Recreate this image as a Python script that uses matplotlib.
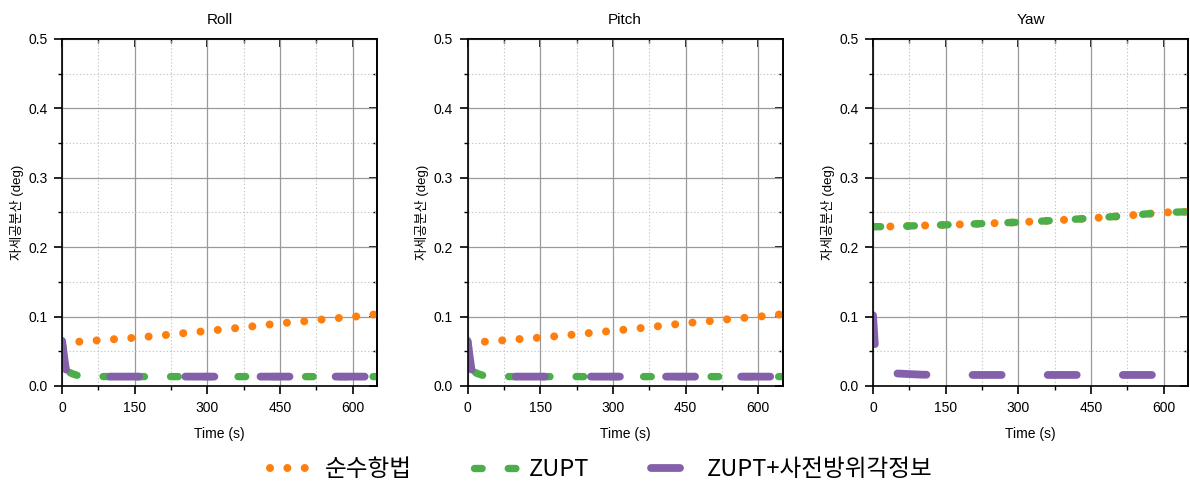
import matplotlib
matplotlib.use('Agg')
import matplotlib.pyplot as plt
from matplotlib.ticker import MultipleLocator, FormatStrFormatter
from matplotlib.lines import Line2D

plt.rcParams['font.family'] = ['Liberation Sans', 'Noto Sans CJK KR', 'DejaVu Sans']
plt.rcParams['lines.scale_dashes'] = False

# time axis (s), shared by every series
time_s = [0, 4, 8, 12, 20, 35, 50, 100, 150, 200, 250, 300, 350, 400, 450, 500, 550, 600, 650]

# attitude covariance (deg)
roll_ins = [0.062, 0.062, 0.0625, 0.0628, 0.0632, 0.0638, 0.0646, 0.067, 0.0695, 0.0725,
            0.076, 0.0793, 0.0827, 0.0864, 0.0903, 0.0932, 0.0967, 0.0996, 0.1035]
roll_zupt = [0.065, 0.045, 0.026, 0.021, 0.018, 0.0145, 0.0138, 0.0135, 0.0135, 0.0135,
             0.0135, 0.0135, 0.0135, 0.0135, 0.0135, 0.0135, 0.0135, 0.0135, 0.0135]
roll_prior = [0.065, 0.044, 0.024, 0.020, 0.018, 0.0145, 0.0138, 0.0135, 0.0135, 0.0135,
              0.0135, 0.0135, 0.0135, 0.0135, 0.0135, 0.0135, 0.0135, 0.0135, 0.0135]

pitch_ins = [0.062, 0.062, 0.0625, 0.0628, 0.0632, 0.0638, 0.0646, 0.0672, 0.0697, 0.0728,
             0.0762, 0.0795, 0.0829, 0.0866, 0.0905, 0.0935, 0.0970, 0.0998, 0.1035]
pitch_zupt = [0.065, 0.045, 0.026, 0.021, 0.018, 0.0145, 0.0138, 0.0135, 0.0135, 0.0135,
              0.0135, 0.0135, 0.0135, 0.0135, 0.0135, 0.0135, 0.0135, 0.0135, 0.0135]
pitch_prior = [0.065, 0.044, 0.024, 0.020, 0.018, 0.0145, 0.0138, 0.0135, 0.0135, 0.0135,
               0.0135, 0.0135, 0.0135, 0.0135, 0.0135, 0.0135, 0.0135, 0.0135, 0.0135]

yaw_ins = [0.2295, 0.2295, 0.2295, 0.2295, 0.2296, 0.2298, 0.2300, 0.2311, 0.2322, 0.2333,
           0.2346, 0.2359, 0.2376, 0.2396, 0.2417, 0.2442, 0.2470, 0.2500, 0.2510]
yaw_zupt = [0.2295, 0.2295, 0.2295, 0.2295, 0.2296, 0.2298, 0.2300, 0.2311, 0.2322, 0.2333,
            0.2346, 0.2359, 0.2376, 0.2396, 0.2417, 0.2442, 0.2470, 0.2500, 0.2510]
yaw_prior = [0.102, 0.058, 0.027, 0.022, 0.020, 0.019, 0.018, 0.0163, 0.016, 0.0159,
             0.0159, 0.0159, 0.0159, 0.0159, 0.0159, 0.0159, 0.0159, 0.0159, 0.0159]

titles = ['Roll', 'Pitch', 'Yaw']
series = [(roll_ins, roll_zupt, roll_prior),
          (pitch_ins, pitch_zupt, pitch_prior),
          (yaw_ins, yaw_zupt, yaw_prior)]

labels = ['순수항법', 'ZUPT', 'ZUPT+사전방위각정보']
colors = ['#ff7f0e', '#4cae4a', '#8460aa']
styles = [(0, (0.01, 12.5)), (0, (5.5, 18.8)), (0, (20.9, 33.2))]
widths = [5.8, 5.3, 5.6]

fig = plt.figure(figsize=(11.9, 4.86), dpi=100)
lefts = [0.0521, 0.3929, 0.7336]

for left, title, vals in zip(lefts, titles, series):
    ax = fig.add_axes([left, 0.2058, 0.2647, 0.714])
    ax.set_axisbelow(True)
    for v, c, ls, lw in zip(vals, colors, styles, widths):
        ax.plot(time_s, v, color=c, lw=lw, linestyle=ls,
                dash_capstyle='round', solid_capstyle='round')

    ax.set_xlim(0, 650)
    ax.set_ylim(0, 0.5)
    ax.xaxis.set_major_locator(MultipleLocator(150))
    ax.xaxis.set_minor_locator(MultipleLocator(75))
    ax.yaxis.set_major_locator(MultipleLocator(0.1))
    ax.yaxis.set_minor_locator(MultipleLocator(0.05))
    ax.yaxis.set_major_formatter(FormatStrFormatter('%.1f'))

    ax.grid(True, which='major', color='#999999', lw=0.9)
    ax.grid(True, which='minor', color='#c8c8c8', lw=0.8, linestyle=(0, (1, 1.5)))

    ax.tick_params(which='major', direction='out', length=6, width=1.2, labelsize=10, pad=4.5)
    ax.tick_params(which='minor', direction='out', length=3, width=1.0)
    for s in ax.spines.values():
        s.set_linewidth(1.2)

    # inward ticks on the top and right spines
    top = ax.secondary_xaxis('top')
    top.xaxis.set_major_locator(MultipleLocator(150))
    top.xaxis.set_minor_locator(MultipleLocator(75))
    top.tick_params(which='major', direction='in', length=6, width=1.2, labeltop=False)
    top.tick_params(which='minor', direction='in', length=3, width=1.0)
    right = ax.secondary_yaxis('right')
    right.yaxis.set_major_locator(MultipleLocator(0.1))
    right.yaxis.set_minor_locator(MultipleLocator(0.05))
    right.tick_params(which='major', direction='in', length=6, width=1.2, labelright=False)
    right.tick_params(which='minor', direction='in', length=3, width=1.0)
    top.spines['top'].set_linewidth(1.2)
    right.spines['right'].set_linewidth(1.2)

    ax.set_title(title, fontsize=11, pad=11)
    ax.set_xlabel('Time (s)', fontsize=10, labelpad=9)
    ax.set_ylabel('자세공분산 (deg)', fontsize=9.5, labelpad=3)

handles = [Line2D([0], [0], color=c, lw=lw, linestyle=ls,
                  dash_capstyle='round', solid_capstyle='round')
           for c, ls, lw in zip(colors, styles, widths)]
fig.legend(handles, labels, loc='center', bbox_to_anchor=(0.505, 0.033), ncol=3,
           frameon=False, prop={'family': ['Noto Sans CJK KR'], 'size': 17},
           handlelength=1.9, handletextpad=0.45, columnspacing=2.6)

fig.savefig('out.png', dpi=100)
